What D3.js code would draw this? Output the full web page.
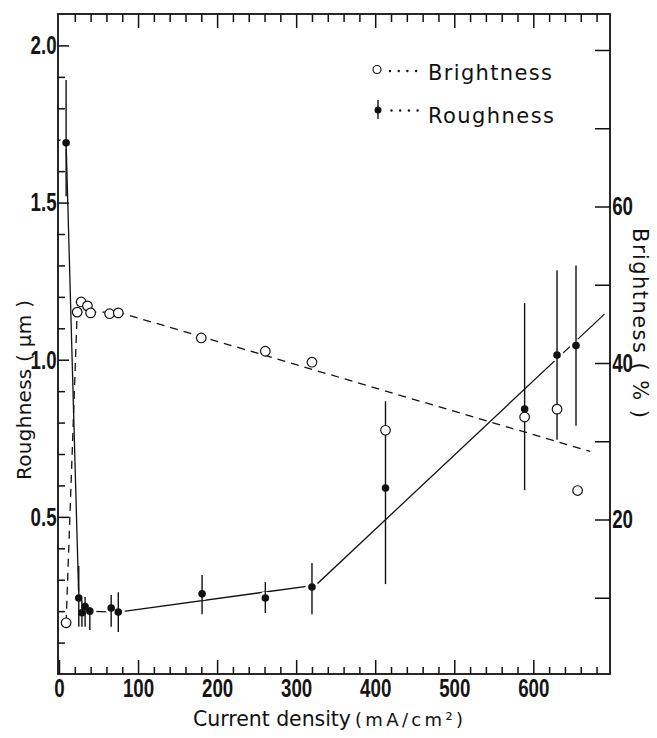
<!DOCTYPE html>
<html>
<head>
<meta charset="utf-8">
<script src="https://cdn.jsdelivr.net/npm/d3@7"></script>
<style>
  body { margin: 0; background: #fff; }
  svg { display: block; }
  .tick text { font-family: "Liberation Sans", Arial, sans-serif; font-size: 26px; font-weight: bold; fill: #151515; }
  .tick line { stroke: #111; stroke-width: 1.5; }
  .domain { display: none; }
  .lbl { font-family: "DejaVu Sans", sans-serif; fill: #111; }
</style>
</head>
<body>
<div id="chart"></div>
<script>
// roughness (filled dots, um) with error bars
var roughCurrent = [9, 25, 29, 33, 39, 66, 75, 181, 261, 320, 413, 589, 630, 654];
var roughValue   = [1.69, 0.242, 0.195, 0.215, 0.2, 0.21, 0.197, 0.255, 0.242, 0.277, 0.592, 0.843, 1.015, 1.045];
var roughLow     = [1.52, 0.15, 0.15, 0.15, 0.14, 0.15, 0.134, 0.19, 0.194, 0.19, 0.286, 0.585, 0.745, 0.79];
var roughHigh    = [1.89, 0.344, 0.235, 0.245, 0.213, 0.251, 0.26, 0.315, 0.293, 0.353, 0.868, 1.18, 1.285, 1.30];

// brightness (open circles, %)
var brightCurrent = [9, 23, 28, 36, 40, 64, 75, 180, 261, 320, 413, 589, 630, 656];
var brightValue   = [6.8, 46.5, 47.8, 47.3, 46.4, 46.3, 46.4, 43.2, 41.5, 40.1, 31.4, 33.1, 34.1, 23.7];

// fitted curves
var roughFitX = [9, 25, 32, 75, 325, 690];
var roughFitY = [1.69, 0.242, 0.2, 0.197, 0.283, 1.145];
var brightFitX = [9, 23, 75, 672];
var brightFitY = [6.8, 46.5, 46.5, 28.7];

var xMajor = [0, 100, 200, 300, 400, 500, 600];
var yLeftMajor = [0.5, 1.0, 1.5, 2.0];
var yRightTicks = [10, 20, 30, 40, 50, 60, 70, 80];
var yRightLabels = [20, 40, 60];
var legendLabels = ["Brightness", "Roughness"];

var W = 657, H = 738;
var L = 58, R = 610, T = 14, B = 674;

var svg = d3.select('#chart').append('svg')
  .attr('width', W).attr('height', H);

var x = d3.scaleLinear().domain([0, 697]).range([59, R]);
var y = d3.scaleLinear().domain([0, 2.1]).range([B, T]);
var yb = d3.scaleLinear().domain([0, 84.6]).range([676, T]);

var minorX = d3.range(20, 690, 20).filter(function(v) { return v % 100 != 0; });
var minorY = d3.range(1, 21).map(function(v) { return v / 10; }).filter(function(v) { return Math.round(v * 10) % 5 != 0; });

// condensed look for the tick numbers
function squeeze(g) {
  g.selectAll('.tick text').attr('transform', 'scale(0.72,1)');
}

// axes (ticks point inward)
svg.append('g').attr('transform', 'translate(0,' + B + ')')
  .call(d3.axisBottom(x).tickValues(minorX).tickSize(-7).tickFormat(''));
svg.append('g').attr('transform', 'translate(0,' + B + ')')
  .call(d3.axisBottom(x).tickValues(xMajor).tickSize(-14).tickPadding(5).tickFormat(d3.format('d')))
  .call(squeeze);
svg.append('g').attr('transform', 'translate(0,' + T + ')')
  .call(d3.axisTop(x).tickValues(minorX).tickSize(-8).tickFormat(''));
svg.append('g').attr('transform', 'translate(0,' + T + ')')
  .call(d3.axisTop(x).tickValues(xMajor.slice(1)).tickSize(-14).tickFormat(''));
svg.append('g').attr('transform', 'translate(' + L + ',0)')
  .call(d3.axisLeft(y).tickValues(minorY).tickSize(-7).tickFormat(''));
svg.append('g').attr('transform', 'translate(' + L + ',0)')
  .call(d3.axisLeft(y).tickValues(yLeftMajor).tickSize(-11).tickPadding(2).tickFormat(d3.format('.1f')))
  .call(squeeze);
svg.append('g').attr('transform', 'translate(' + R + ',0)')
  .call(d3.axisRight(yb).tickValues(yRightTicks).tickSize(-15).tickPadding(3)
    .tickFormat(function(d) { return yRightLabels.indexOf(d) >= 0 ? d : ''; }))
  .call(squeeze);

svg.append('rect')
  .attr('x', L).attr('y', T).attr('width', R - L).attr('height', B - T)
  .attr('fill', 'none').attr('stroke', '#111').attr('stroke-width', 1.8);

// fitted lines
var roughLine = d3.line().x(function(d) { return x(d[0]); }).y(function(d) { return y(d[1]); });
var brightLine = d3.line().x(function(d) { return x(d[0]); }).y(function(d) { return yb(d[1]); });

svg.append('path')
  .datum(d3.zip(brightFitX, brightFitY))
  .attr('d', brightLine)
  .attr('fill', 'none').attr('stroke', '#111').attr('stroke-width', 1.3)
  .attr('stroke-dasharray', '8,6');

svg.append('path')
  .datum(d3.zip(roughFitX, roughFitY))
  .attr('d', roughLine)
  .attr('fill', 'none').attr('stroke', '#111').attr('stroke-width', 1.3);

// small white gaps around dots, like the drawing
svg.selectAll('circle.halo')
  .data(d3.range(roughCurrent.length)).enter()
  .append('circle').attr('class', 'halo')
  .attr('cx', function(i) { return x(roughCurrent[i]); })
  .attr('cy', function(i) { return y(roughValue[i]); })
  .attr('r', 6.5).attr('fill', '#fff');

// error bars
svg.selectAll('line.err')
  .data(d3.range(roughCurrent.length)).enter()
  .append('line').attr('class', 'err')
  .attr('x1', function(i) { return x(roughCurrent[i]); })
  .attr('x2', function(i) { return x(roughCurrent[i]); })
  .attr('y1', function(i) { return y(roughLow[i]); })
  .attr('y2', function(i) { return y(roughHigh[i]); })
  .attr('stroke', '#111').attr('stroke-width', 1.4);

svg.selectAll('circle.bright')
  .data(d3.range(brightCurrent.length)).enter()
  .append('circle').attr('class', 'bright')
  .attr('cx', function(i) { return x(brightCurrent[i]); })
  .attr('cy', function(i) { return yb(brightValue[i]); })
  .attr('r', 4.8).attr('fill', '#fff')
  .attr('stroke', '#111').attr('stroke-width', 1.2);

svg.selectAll('circle.rough')
  .data(d3.range(roughCurrent.length)).enter()
  .append('circle').attr('class', 'rough')
  .attr('cx', function(i) { return x(roughCurrent[i]); })
  .attr('cy', function(i) { return y(roughValue[i]); })
  .attr('r', 3.8).attr('fill', '#111');

// legend
var lg = svg.append('g');
lg.append('circle').attr('cx', 377).attr('cy', 69.5).attr('r', 4)
  .attr('fill', '#fff').attr('stroke', '#111').attr('stroke-width', 1.2);
lg.append('line').attr('x1', 378).attr('x2', 378).attr('y1', 100).attr('y2', 119)
  .attr('stroke', '#111').attr('stroke-width', 1.4);
lg.append('circle').attr('cx', 378).attr('cy', 110).attr('r', 3.5).attr('fill', '#111');
[0, 1].forEach(function(k) {
  lg.selectAll('circle.dot' + k)
    .data([0, 1, 2, 3]).enter()
    .append('circle').attr('class', 'dot' + k)
    .attr('cx', function(d) { return 390 + k * 1.5 + d * 8.7; })
    .attr('cy', k == 0 ? 71 : 110.5)
    .attr('r', 1.2).attr('fill', '#111');
});
lg.selectAll('text')
  .data(legendLabels).enter()
  .append('text').attr('class', 'lbl')
  .attr('x', 428)
  .attr('y', function(d, i) { return i == 0 ? 79.5 : 123; })
  .attr('font-size', 21)
  .attr('textLength', function(d, i) { return i == 0 ? 124 : 126; })
  .text(function(d) { return d; });

// axis titles
svg.append('text').attr('class', 'lbl').attr('x', 193).attr('y', 726)
  .attr('font-size', 20.5).attr('textLength', 158).text('Current density');
svg.append('text').attr('class', 'lbl').attr('x', 355).attr('y', 726)
  .attr('font-size', 18).attr('textLength', 108).text('(mA/cm²)');

svg.append('text').attr('class', 'lbl')
  .attr('transform', 'translate(31,390) rotate(-90)')
  .attr('text-anchor', 'middle').attr('font-size', 20)
  .attr('textLength', 180)
  .text('Roughness ( μm )');

svg.append('text').attr('class', 'lbl')
  .attr('transform', 'translate(633,323) rotate(90)')
  .attr('text-anchor', 'middle').attr('font-size', 21)
  .attr('textLength', 190)
  .text('Brightness ( % )');
</script>
</body>
</html>
